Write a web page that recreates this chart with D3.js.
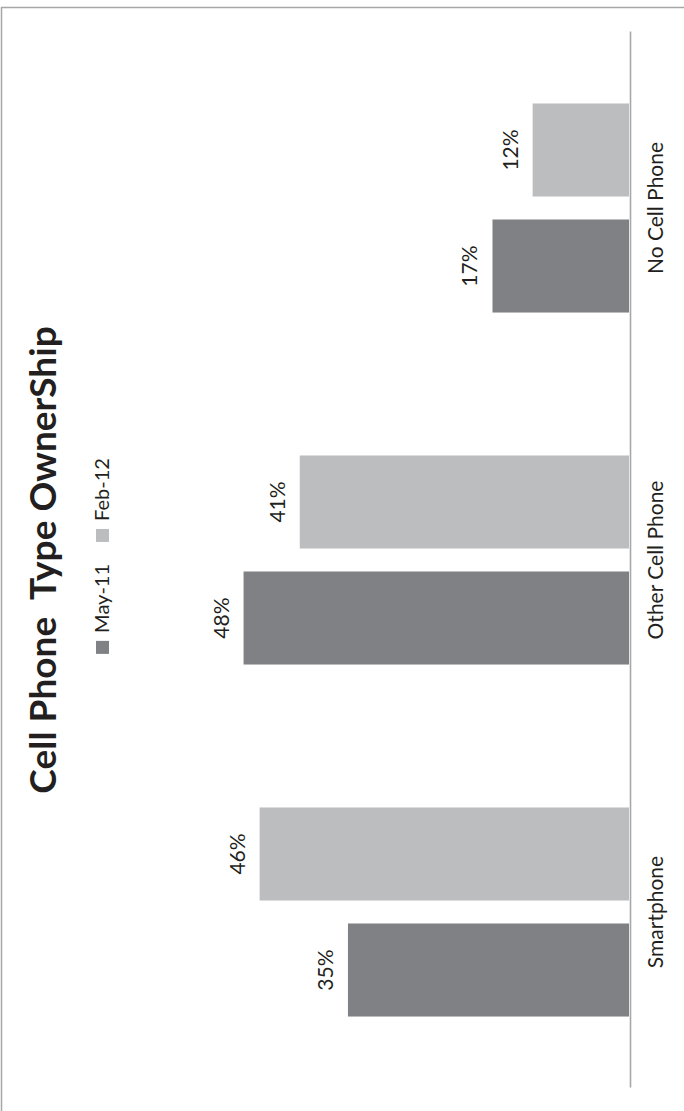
<!DOCTYPE html>
<html>
<head>
<meta charset="utf-8">
<script src="https://cdn.jsdelivr.net/npm/d3@7"></script>
<style>
  html, body { margin: 0; padding: 0; background: #ffffff; }
  svg { display: block; }
  text { font-family: Lato, "Open Sans", sans-serif; fill: #231f20; }
</style>
</head>
<body>
<svg id="chart" width="684" height="1111"></svg>
<script>
// Categories and series values (shares of adults)
const categories = ["Smartphone", "Other Cell Phone", "No Cell Phone"];
const seriesNames = ["May-11", "Feb-12"];
const may11 = [0.35, 0.48, 0.17];
const feb12 = [0.46, 0.41, 0.12];
const seriesColors = ["#808184", "#bcbdbf"];
const titleText = "Cell Phone  Type OwnerShip";

const W = 684, H = 1111;
const rows = categories.map((c, i) => ({ category: c, values: [may11[i], feb12[i]] }));

const svg = d3.select("#chart");

// outer frame of the chart area
svg.append("rect")
  .attr("x", 1.5).attr("y", 7.5)
  .attr("width", 800).attr("height", 1300)
  .attr("fill", "none")
  .attr("stroke", "#a6a6a8")
  .attr("stroke-width", 1.5);

// The column chart is laid out in its own frame and turned a quarter-turn
// counter-clockwise, so categories run bottom-to-top on the page.
const g = svg.append("g").attr("transform", `translate(0,${H}) rotate(-90)`);

const x0 = d3.scaleBand().domain(categories).range([23, 1079]).padding(0);
const x1 = d3.scaleBand().domain(seriesNames).range([0, x0.bandwidth()])
  .paddingInner(0.198).paddingOuter(0.616);
const y = d3.scaleLinear().domain([0, 0.5]).range([629, 227.5]);
const color = d3.scaleOrdinal().domain(seriesNames).range(seriesColors);
const fmt = d3.format(".0%");

const groups = g.selectAll("g.cat").data(rows).join("g")
  .attr("class", "cat")
  .attr("transform", d => `translate(${x0(d.category)},0)`);

const items = d => seriesNames.map((s, i) => ({ series: s, value: d.values[i] }));

groups.selectAll("rect").data(items).join("rect")
  .attr("x", d => x1(d.series))
  .attr("width", x1.bandwidth())
  .attr("y", d => y(d.value))
  .attr("height", d => y(0) - y(d.value))
  .attr("fill", d => color(d.series));

groups.selectAll("text.val").data(items).join("text")
  .attr("class", "val")
  .attr("x", d => x1(d.series) + x1.bandwidth() / 2)
  .attr("y", d => y(d.value) - 15)
  .attr("text-anchor", "middle")
  .style("font-size", "21px")
  .text(d => fmt(d.value));

// category axis
const axis = g.append("g")
  .attr("transform", "translate(0,630)")
  .call(d3.axisBottom(x0).tickSize(0).tickPadding(0));
axis.select(".domain").attr("stroke", "#a6a8ab").attr("stroke-width", 1.6);
axis.selectAll("text")
  .attr("y", 33).attr("dy", null)
  .style("font-size", "21px")
  .style("font-family", "Lato, 'Open Sans', sans-serif")
  .attr("fill", "#231f20");

// title
g.append("text")
  .attr("x", 551).attr("y", 56)
  .attr("text-anchor", "middle")
  .style("font-size", "37px")
  .style("font-weight", "bold")
  .style("white-space", "pre")
  .attr("fill", "#000")
  .text(titleText);

// legend, centred under the title
const legend = g.append("g");
const sw = 13, gapText = 8, gapItem = 22;
let cursor = 0;
seriesNames.forEach(s => {
  const it = legend.append("g").attr("transform", `translate(${cursor},0)`);
  it.append("rect").attr("x", 0).attr("y", -13).attr("width", sw).attr("height", sw)
    .attr("fill", color(s));
  const t = it.append("text").attr("x", sw + gapText).attr("y", 0)
    .style("font-size", "20px").text(s);
  cursor += sw + gapText + t.node().getComputedTextLength() + gapItem;
});
const legendWidth = cursor - gapItem;
legend.attr("transform", `translate(${555 - legendWidth / 2},109)`);
</script>
</body>
</html>
